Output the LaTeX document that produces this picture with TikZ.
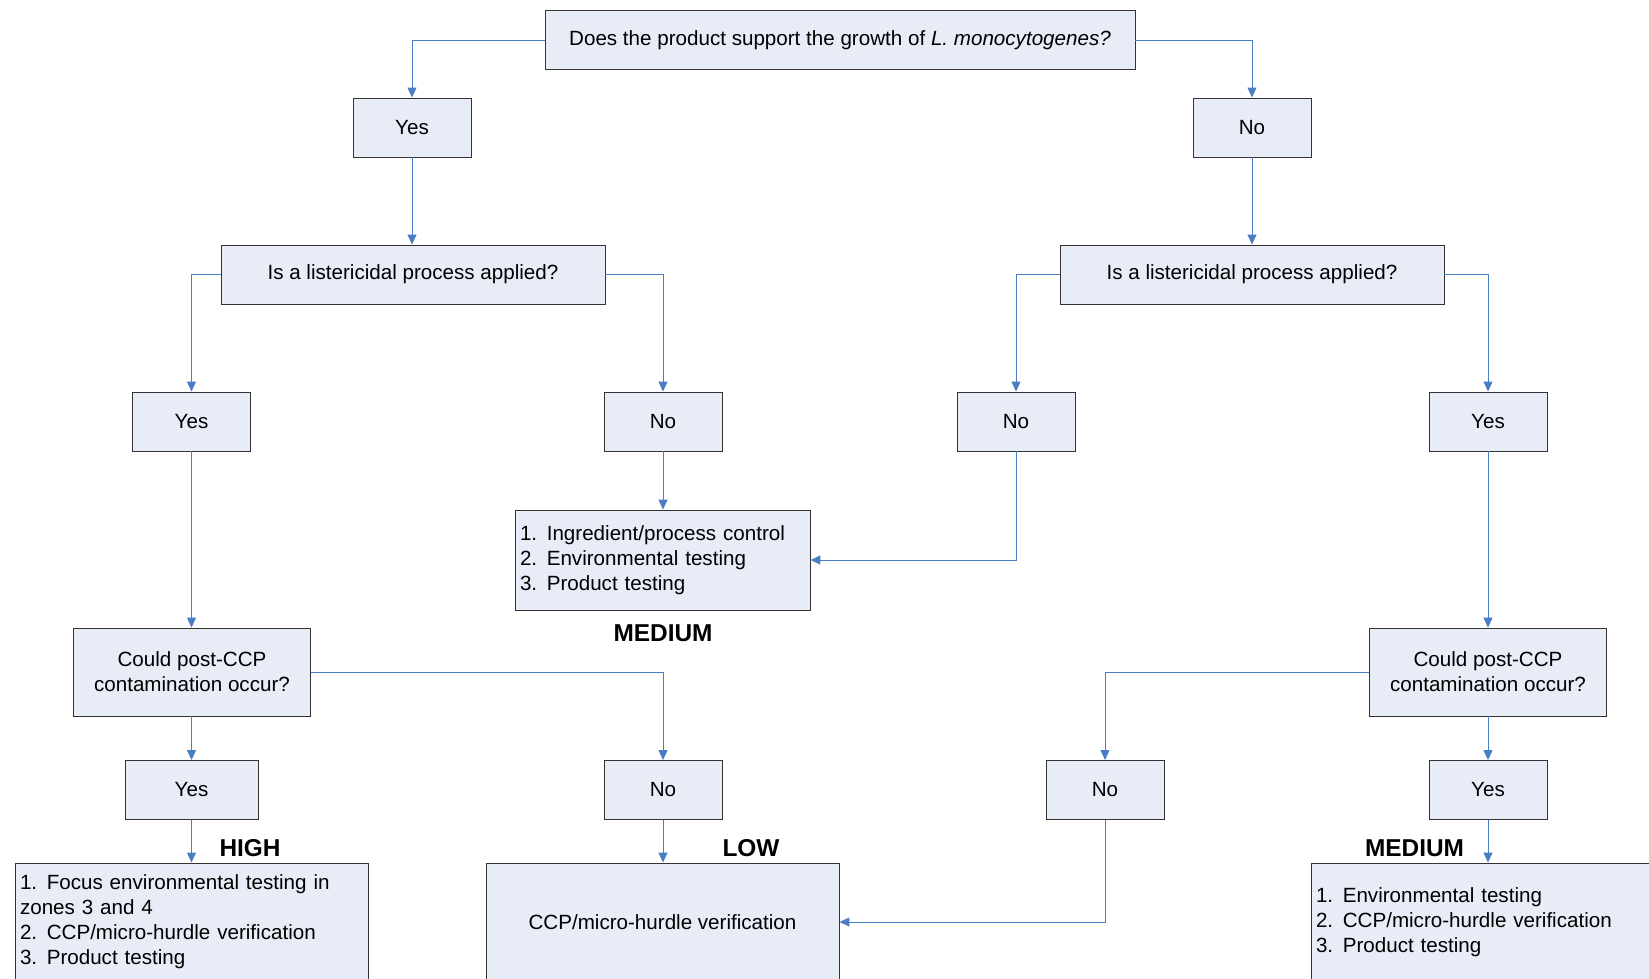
\documentclass[tikz,border=0pt]{standalone}
\usepackage{fontspec}
\setmainfont{Liberation Sans}
\usetikzlibrary{arrows.meta}
\definecolor{boxfill}{HTML}{E7ECF6}
\definecolor{connblue}{HTML}{4A7EC4}
\definecolor{boxline}{HTML}{333333}
\newcommand{\itm}[1]{\makebox[1.3em][l]{#1}}
\tikzset{
  box/.style={draw=boxline, line width=0.9pt, fill=boxfill, inner sep=0pt, align=center,
    font=\fontsize{20.6}{25}\selectfont},
  lbox/.style={box, align=left, inner xsep=5pt},
  conn/.style={draw=connblue, line width=1pt, -{Triangle[length=10pt,width=9pt]}},
  risk/.style={font=\fontsize{24.4}{28}\selectfont\bfseries, inner sep=0pt},
}
\begin{document}
\begin{tikzpicture}[x=1pt,y=-1pt]
\useasboundingbox (0,0) rectangle (1649,978);
% row 1
\node[box, minimum width=590, minimum height=59] (top) at (840,40) {Does the product support the growth of \textit{L. monocytogenes?}};
% row 2
\node[box, minimum width=118, minimum height=59] (yes1) at (412,127.5) {Yes};
\node[box, minimum width=118, minimum height=59] (no1) at (1252,127.5) {No};
% row 3
\node[box, minimum width=384, minimum height=59] (listL) at (413,274.5) {Is a listericidal process applied?};
\node[box, minimum width=384, minimum height=59] (listR) at (1252,274.5) {Is a listericidal process applied?};
% row 4
\node[box, minimum width=118, minimum height=59] (yesL) at (191.5,421.5) {Yes};
\node[box, minimum width=118, minimum height=59] (noL) at (663,421.5) {No};
\node[box, minimum width=118, minimum height=59] (noR) at (1016,421.5) {No};
\node[box, minimum width=118, minimum height=59] (yesR) at (1488,421.5) {Yes};
% medium box
\node[lbox, text width=285, minimum height=100] (med) at (662.5,560) {\itm{1.}Ingredient/process control\\\itm{2.}Environmental testing\\\itm{3.}Product testing};
\node[risk] (medlab) at (663,633) {MEDIUM};
% row 5
\node[box, minimum width=237, minimum height=88] (ccpL) at (192,672) {Could post-CCP\\contamination occur?};
\node[box, minimum width=237, minimum height=88] (ccpR) at (1488,672) {Could post-CCP\\contamination occur?};
% row 6
\node[box, minimum width=133, minimum height=59] (yesL2) at (191.5,790) {Yes};
\node[box, minimum width=118, minimum height=59] (noL2) at (663,790) {No};
\node[box, minimum width=118, minimum height=59] (noR2) at (1105,790) {No};
\node[box, minimum width=118, minimum height=59] (yesR2) at (1488,790) {Yes};
% bottom boxes
\node[lbox, text width=343, minimum height=118] (high) at (191.5,922) {\itm{1.}Focus environmental testing in\\zones 3 and 4\\\itm{2.}CCP/micro-hurdle verification\\\itm{3.}Product testing};
\node[box, minimum width=353, minimum height=118] (low) at (662.5,922) {CCP/micro-hurdle verification};
\node[lbox, text width=339, minimum height=118] (medR) at (1485.5,922) {\itm{1.}Environmental testing\\\itm{2.}CCP/micro-hurdle verification\\\itm{3.}Product testing};
\node[risk] (highlab) at (250,848) {HIGH};
\node[risk] (lowlab) at (751,848) {LOW};
\node[risk] (medRlab) at (1414.5,848) {MEDIUM};
% connectors
\draw[conn] (top.west) -| (yes1.north);
\draw[conn] (top.east) -| (no1.north);
\draw[conn] (yes1.south) -- (listL.north -| yes1.south);
\draw[conn] (no1.south) -- (listR.north -| no1.south);
\draw[conn] (listL.west) -| (yesL.north);
\draw[conn] (listL.east) -| (noL.north);
\draw[conn] (listR.west) -| (noR.north);
\draw[conn] (listR.east) -| (yesR.north);
\draw[conn] (yesL.south) -- (ccpL.north -| yesL.south);
\draw[conn] (noL.south) -- (med.north -| noL.south);
\draw[conn] (noR.south) |- (med.east);
\draw[conn] (yesR.south) -- (ccpR.north -| yesR.south);
\draw[conn] (ccpL.south -| yesL2.north) -- (yesL2.north);
\draw[conn] (ccpL.east) -| (noL2.north);
\draw[conn] (ccpR.west) -| (noR2.north);
\draw[conn] (ccpR.south) -- (yesR2.north);
\draw[conn] (yesL2.south) -- (high.north -| yesL2.south);
\draw[conn] (noL2.south) -- (low.north -| noL2.south);
\draw[conn] (noR2.south) |- (low.east);
\draw[conn] (yesR2.south) -- (medR.north -| yesR2.south);
\end{tikzpicture}
\end{document}
